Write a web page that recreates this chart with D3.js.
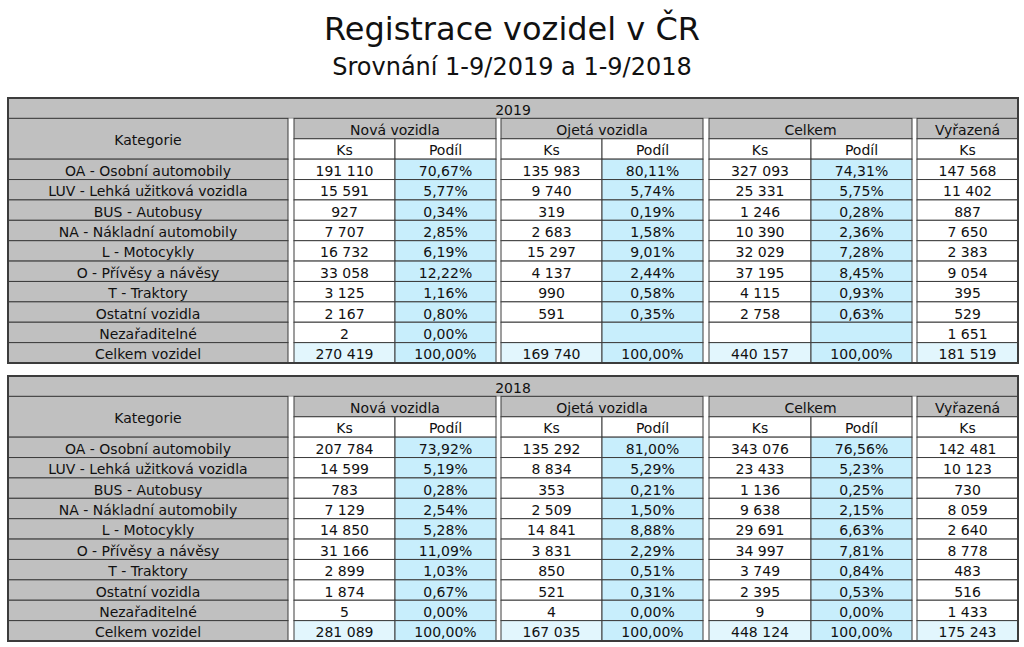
<!DOCTYPE html>
<html>
<head>
<meta charset="utf-8">
<script src="https://cdn.jsdelivr.net/npm/d3@7"></script>
<style>
  body { margin: 0; background: #fff; }
  text { font-family: "DejaVu Sans", Verdana, sans-serif; }
</style>
</head>
<body>
<svg id="chart" width="1024" height="647"></svg>
<script>
// --- data ---
var categories = ["OA - Osobní automobily", "LUV - Lehká užitková vozidla", "BUS - Autobusy",
  "NA - Nákladní automobily", "L - Motocykly", "O - Přívěsy a návěsy", "T - Traktory",
  "Ostatní vozidla", "Nezařaditelné", "Celkem vozidel"];
var groups = ["Nová vozidla", "Ojetá vozidla", "Celkem", "Vyřazená"];
var subHeads = ["Ks", "Podíl"];

var nove_ks_2019 = [191110, 15591, 927, 7707, 16732, 33058, 3125, 2167, 2, 270419];
var nove_podil_2019 = [70.67, 5.77, 0.34, 2.85, 6.19, 12.22, 1.16, 0.80, 0.00, 100.00];
var ojete_ks_2019 = [135983, 9740, 319, 2683, 15297, 4137, 990, 591, null, 169740];
var ojete_podil_2019 = [80.11, 5.74, 0.19, 1.58, 9.01, 2.44, 0.58, 0.35, null, 100.00];
var celkem_ks_2019 = [327093, 25331, 1246, 10390, 32029, 37195, 4115, 2758, null, 440157];
var celkem_podil_2019 = [74.31, 5.75, 0.28, 2.36, 7.28, 8.45, 0.93, 0.63, null, 100.00];
var vyrazena_ks_2019 = [147568, 11402, 887, 7650, 2383, 9054, 395, 529, 1651, 181519];

var nove_ks_2018 = [207784, 14599, 783, 7129, 14850, 31166, 2899, 1874, 5, 281089];
var nove_podil_2018 = [73.92, 5.19, 0.28, 2.54, 5.28, 11.09, 1.03, 0.67, 0.00, 100.00];
var ojete_ks_2018 = [135292, 8834, 353, 2509, 14841, 3831, 850, 521, 4, 167035];
var ojete_podil_2018 = [81.00, 5.29, 0.21, 1.50, 8.88, 2.29, 0.51, 0.31, 0.00, 100.00];
var celkem_ks_2018 = [343076, 23433, 1136, 9638, 29691, 34997, 3749, 2395, 9, 448124];
var celkem_podil_2018 = [76.56, 5.23, 0.25, 2.15, 6.63, 7.81, 0.84, 0.53, 0.00, 100.00];
var vyrazena_ks_2018 = [142481, 10123, 730, 8059, 2640, 8778, 483, 516, 1433, 175243];

// --- formatting (czech) ---
var cz = d3.formatLocale({decimal: ",", thousands: "\u00a0", grouping: [3], currency: ["", " Kč"]});
var fmtKs = cz.format(",d");
var fmtPct = function(v) { return cz.format(".2f")(v) + "%"; };

var svg = d3.select("#chart");
var gray = "#c0c0c0", blue = "#c8eefc", paleBlue = "#e2f6fd", line = "#3c3c3c";
var fontSize = "14px";

svg.append("text").attr("x", 512).attr("y", 40).attr("text-anchor", "middle")
  .attr("font-size", "32px").attr("fill", "#111").text("Registrace vozidel v ČR");
svg.append("text").attr("x", 512).attr("y", 75).attr("text-anchor", "middle")
  .attr("font-size", "24px").attr("fill", "#111").text("Srovnání 1-9/2019 a 1-9/2018");

// column layout: category column + 4 groups separated by narrow white gaps
var left = 8, right = 1018;
var catCol = [left, 288];
var groupCols = [[294, 496], [501, 703], [709, 912], [917, right]];

function drawTable(top, year, cols) {
  var nRows = 13;
  var y = d3.scaleBand().domain(d3.range(nRows)).range([top, top + 265]);
  var h = y.bandwidth();
  var g = svg.append("g");

  function cell(x0, x1, r0, r1, fill, txt) {
    var y0 = y(r0), y1 = y(r1) + h;
    g.append("rect").attr("x", x0).attr("y", y0).attr("width", x1 - x0).attr("height", y1 - y0)
      .attr("fill", fill).attr("stroke", line).attr("stroke-width", 1);
    if (txt != null) {
      g.append("text").attr("x", (x0 + x1) / 2).attr("y", (y0 + y1) / 2 + 6.5)
        .attr("text-anchor", "middle").attr("font-size", fontSize).attr("fill", "#111").text(txt);
    }
  }

  // year band
  cell(left, right, 0, 0, gray, year);
  // white background behind the group gaps
  g.append("rect").attr("x", left).attr("y", y(1)).attr("width", right - left).attr("height", y(12) + h - y(1))
    .attr("fill", "#fff");
  // header
  cell(catCol[0], catCol[1], 1, 2, gray, "Kategorie");
  groupCols.forEach(function(gc, gi) {
    cell(gc[0], gc[1], 1, 1, gray, groups[gi]);
    var subs = gi < 3 ? subHeads : ["Ks"];
    var w = (gc[1] - gc[0]) / subs.length;
    subs.forEach(function(s, si) {
      cell(Math.round(gc[0] + si * w), Math.round(gc[0] + (si + 1) * w), 2, 2, "#fff", s);
    });
  });
  // body
  categories.forEach(function(c, i) {
    var r = i + 3, total = i === categories.length - 1;
    cell(catCol[0], catCol[1], r, r, gray, c);
    cols.forEach(function(col, ci) {
      var gc = groupCols[Math.floor(ci / 2)];
      var isPct = ci % 2 === 1;
      var sub = ci < 6 ? 2 : 1;
      var w = (gc[1] - gc[0]) / sub;
      var k = ci < 6 ? ci % 2 : 0;
      var v = col[i];
      var fill = isPct ? blue : (total ? paleBlue : "#fff");
      cell(Math.round(gc[0] + k * w), Math.round(gc[0] + (k + 1) * w), r, r, fill,
        v == null ? null : (isPct ? fmtPct(v) : fmtKs(v)));
    });
  });
  // outer frame
  g.append("rect").attr("x", left).attr("y", top).attr("width", right - left).attr("height", 265)
    .attr("fill", "none").attr("stroke", line).attr("stroke-width", 2);
}

drawTable(98, "2019", [nove_ks_2019, nove_podil_2019, ojete_ks_2019, ojete_podil_2019,
  celkem_ks_2019, celkem_podil_2019, vyrazena_ks_2019]);
drawTable(376, "2018", [nove_ks_2018, nove_podil_2018, ojete_ks_2018, ojete_podil_2018,
  celkem_ks_2018, celkem_podil_2018, vyrazena_ks_2018]);
</script>
</body>
</html>
